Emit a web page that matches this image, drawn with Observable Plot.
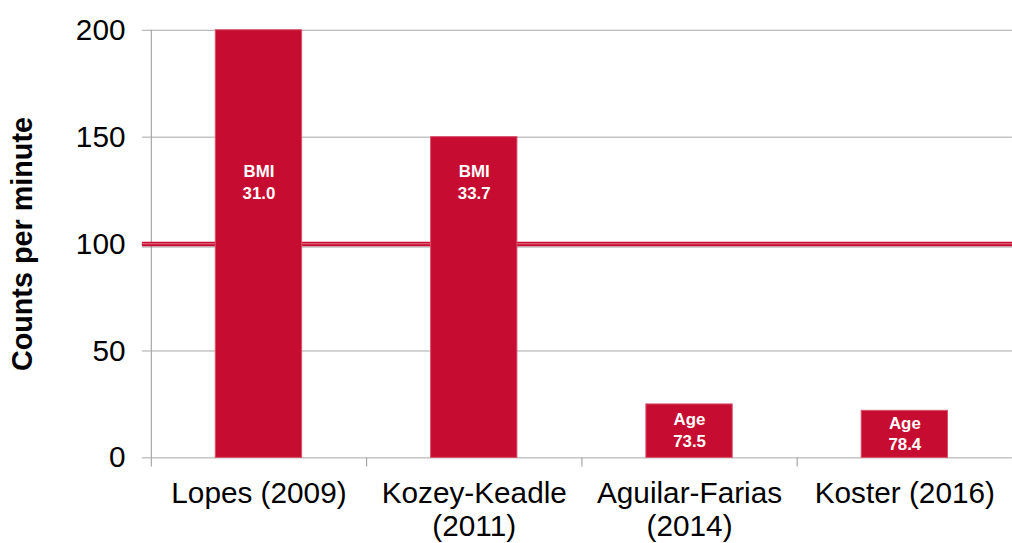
<!DOCTYPE html>
<html>
<head>
<meta charset="utf-8">
<script src="https://cdn.jsdelivr.net/npm/d3@7"></script>
<script src="https://cdn.jsdelivr.net/npm/@observablehq/plot@0.6"></script>
<style>
  html, body { margin: 0; padding: 0; background: #fff; overflow: hidden; }
  #chart { width: 1012px; height: 543px; overflow: hidden; }
  svg { font-family: "Liberation Sans", Arial, sans-serif; }
</style>
</head>
<body>
<div id="chart"></div>
<script>
// Data
const studies = ["Lopes (2009)", "Kozey-Keadle\n(2011)", "Aguilar-Farias\n(2014)", "Koster (2016)"];
const counts = [200, 150, 25, 22];
const labelNames = ["BMI", "BMI", "Age", "Age"];
const labelValues = ["31.0", "33.7", "73.5", "78.4"];
const yTicks = [0, 50, 100, 150, 200];
const threshold = [100];
const yLabel = "Counts per minute";

const data = studies.map((s, i) => ({
  study: s, value: counts[i], name: labelNames[i], val: labelValues[i]
}));

const W = 1020, H = 543, mL = 152, mR = 0, mT = 30, mB = 82;
const step = (W - mL - mR) / studies.length;
const red = "#c60c30";
const grid = "#a6a6a6";

const chart = Plot.plot({
  width: W,
  height: H,
  marginLeft: mL,
  marginRight: mR,
  marginTop: mT,
  marginBottom: mB,
  style: { fontFamily: "'Liberation Sans', Arial, sans-serif", background: "white", overflow: "visible" },
  x: { domain: studies, paddingInner: 0.6, paddingOuter: 0.3, axis: null },
  y: { domain: [0, 200], axis: null },
  marks: [
    Plot.ruleY(yTicks, { stroke: grid, strokeWidth: 1, insetLeft: -9 }),
    Plot.ruleX([studies[0]], { x: d => d, dx: -step / 2, y1: -4.3, y2: 200, stroke: grid, strokeWidth: 1.2 }),
    Plot.ruleX(studies.slice(1), { x: d => d, dx: -step / 2, y1: 0, y2: -4.3, stroke: grid, strokeWidth: 1.2 }),
    Plot.ruleY(threshold, { stroke: "#777", strokeOpacity: 0.35, strokeWidth: 3, dy: 2.5, insetLeft: -9 }),
    Plot.ruleY(threshold, { stroke: red, strokeWidth: 4.5, insetLeft: -9 }),
    Plot.ruleY(threshold, { stroke: "#e8788c", strokeWidth: 1, dy: -0.3, insetLeft: -9 }),
    Plot.barY(data, { x: "study", y: "value", fill: red, stroke: "#d8506a", strokeWidth: 1 }),
    Plot.text(data, {
      x: "study",
      y: d => d.value > 100 ? 129.5 : d.value * 0.54,
      text: d => d.name + "\n" + d.val,
      fill: "white",
      fontWeight: "bold",
      fontSize: 17,
      lineHeight: 1.3
    }),
    Plot.axisY(yTicks, { tickSize: 0, tickPadding: 26, fontSize: 30, label: null, fill: "#000" }),
    Plot.axisX({ tickSize: 0, tickPadding: 22, fontSize: 30, lineHeight: 1.1, label: null, fill: "#000" }),
    Plot.text([yLabel], {
      frameAnchor: "left", textAnchor: "middle", dx: -130, rotate: -90,
      fontSize: 29, fontWeight: "bold", fill: "#000"
    })
  ]
});

document.getElementById("chart").appendChild(chart);
</script>
</body>
</html>
